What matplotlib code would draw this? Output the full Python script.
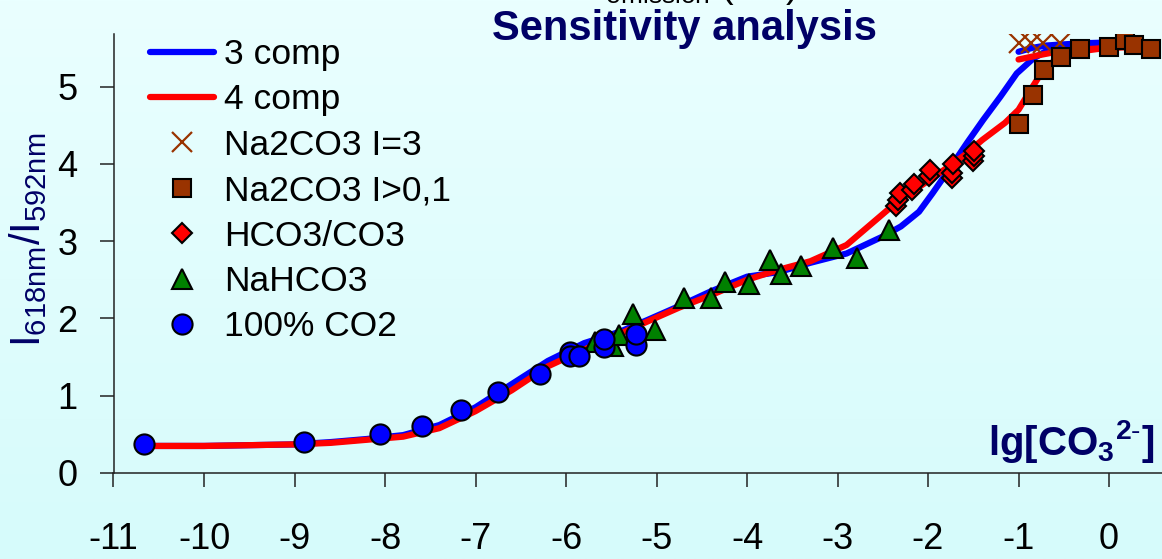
import numpy as np
import matplotlib
matplotlib.use('Agg')
import matplotlib.pyplot as plt

plt.rcParams['font.family'] = ['Liberation Sans', 'DejaVu Sans']
plt.rcParams['mathtext.fontset'] = 'custom'
plt.rcParams['mathtext.rm'] = 'Liberation Sans'
plt.rcParams['mathtext.bf'] = 'Liberation Sans:bold'
plt.rcParams['mathtext.it'] = 'Liberation Sans:italic'
plt.rcParams['axes.unicode_minus'] = False

NAVY = '#000066'

# model curves (lg[CO3 2-] vs ratio)
comp3_x = [-10.67, -10.0, -9.5, -9.0, -8.6, -8.2, -7.8, -7.4, -7.0, -6.6, -6.2, -5.8,
           -5.4, -5.1, -4.75, -4.4, -4.0, -3.65, -3.3, -2.9, -2.5, -2.3, -2.1, -1.95,
           -1.76, -1.57, -1.39, -1.2, -1.02, -0.84, -0.65, -0.47, -0.1, 0.2, 0.45]
comp3_y = [0.35, 0.35, 0.36, 0.37, 0.40, 0.44, 0.49, 0.62, 0.85, 1.15, 1.45, 1.68,
           1.83, 1.98, 2.16, 2.35, 2.54, 2.60, 2.72, 2.84, 3.06, 3.19, 3.38, 3.62,
           3.94, 4.27, 4.57, 4.87, 5.17, 5.36, 5.49, 5.53, 5.56, 5.57, 5.57]

comp4_x = [-10.67, -10.0, -9.5, -9.0, -8.6, -8.2, -7.8, -7.4, -7.0, -6.6, -6.2, -5.85,
           -5.5, -5.1, -4.75, -4.4, -4.0, -3.65, -3.3, -2.9, -2.65, -2.4, -2.1, -1.85,
           -1.6, -1.4, -1.15, -1.0, -0.87, -0.73, -0.58, -0.36, -0.1, 0.2, 0.45]
comp4_y = [0.35, 0.35, 0.36, 0.37, 0.39, 0.43, 0.47, 0.58, 0.80, 1.07, 1.38, 1.57,
           1.75, 1.96, 2.14, 2.30, 2.50, 2.63, 2.74, 2.95, 3.20, 3.45, 3.70, 3.90,
           4.11, 4.31, 4.53, 4.70, 4.95, 5.21, 5.36, 5.45, 5.49, 5.52, 5.53]

# high ionic strength branches
comp3_i3_x = [-1.0, -0.85, -0.7, -0.58, -0.3, 0.0, 0.45]
comp3_i3_y = [5.45, 5.50, 5.53, 5.54, 5.56, 5.57, 5.57]
comp4_i3_x = [-1.0, -0.8, -0.58, -0.3, 0.0, 0.45]
comp4_i3_y = [5.35, 5.40, 5.45, 5.48, 5.50, 5.52]

# measurements
na2co3_i3_x = [-1.0, -0.86, -0.73, -0.54]
na2co3_i3_y = [5.57, 5.57, 5.57, 5.57]

na2co3_x = [-1.00, -0.84, -0.72, -0.53, -0.32, 0.00, 0.18, 0.28, 0.46]
na2co3_y = [4.52, 4.89, 5.22, 5.38, 5.48, 5.51, 5.60, 5.54, 5.48]

hco3_x = [-2.35, -2.33, -2.31, -2.18, -2.16, -1.99, -1.98, -1.74, -1.73, -1.72,
          -1.50, -1.49, -1.49]
hco3_y = [3.45, 3.53, 3.62, 3.66, 3.74, 3.84, 3.92, 3.82, 3.88, 4.00,
          4.04, 4.10, 4.16]

nahco3_x = [-5.68, -5.48, -5.41, -5.26, -5.02, -4.70, -4.40, -4.24, -3.98, -3.75,
            -3.62, -3.40, -3.05, -2.78, -2.43]
nahco3_y = [1.70, 1.64, 1.78, 2.06, 1.85, 2.26, 2.26, 2.47, 2.44, 2.76,
            2.57, 2.68, 2.91, 2.78, 3.14]

co2_x = [-10.66, -8.89, -8.05, -7.59, -7.16, -6.75, -6.29, -5.96, -5.96, -5.86,
         -5.58, -5.58, -5.23, -5.23]
co2_y = [0.37, 0.40, 0.51, 0.61, 0.82, 1.05, 1.28, 1.56, 1.52, 1.51,
         1.63, 1.73, 1.66, 1.80]

xticks = list(range(-11, 1))
yticks = list(range(0, 6))

fig = plt.figure(figsize=(11.62, 5.59), dpi=100)

# pale cyan backdrop, slightly lighter at the top
bg = fig.add_axes([0, 0, 1, 1], zorder=-10)
top = np.array([234, 255, 255]) / 255
bottom = np.array([214, 251, 251]) / 255
t = np.linspace(0, 1, 256)[:, None, None]
grad = top * (1 - t) + bottom * t
bg.imshow(np.repeat(grad, 2, axis=1), aspect='auto', extent=(0, 1, 0, 1))
bg.axis('off')

ax = fig.add_axes([113.5 / 1162, 1 - 473 / 559, 1 - 113.5 / 1162, 439 / 559])
ax.set_facecolor('none')

ax.plot(comp3_x, comp3_y, color='#0000FF', lw=4.5, solid_capstyle='round', label='3 comp', zorder=2)
ax.plot(comp4_x, comp4_y, color='#FF0000', lw=4.5, solid_capstyle='round', label='4 comp', zorder=2.1)
ax.plot(comp3_i3_x, comp3_i3_y, color='#0000FF', lw=4.5, solid_capstyle='round', zorder=2)
ax.plot(comp4_i3_x, comp4_i3_y, color='#FF0000', lw=4.5, solid_capstyle='round', zorder=2.1)

ax.plot(na2co3_i3_x, na2co3_i3_y, ls='none', marker='x', ms=15, mew=1.6,
        color='#993300', label='Na2CO3 I=3', zorder=3)
ax.plot(na2co3_x, na2co3_y, ls='none', marker='s', ms=13.5, mew=1.5,
        mfc='#993300', mec='black', label='Na2CO3 I>0,1', zorder=3)
ax.plot(hco3_x, hco3_y, ls='none', marker='D', ms=10.5, mew=1.5,
        mfc='#FF0000', mec='black', label='HCO3/CO3', zorder=3)
ax.plot(nahco3_x, nahco3_y, ls='none', marker='^', ms=14.5, mew=1.5,
        mfc='#008000', mec='black', label='NaHCO3', zorder=3)
ax.plot(co2_x, co2_y, ls='none', marker='o', ms=14.5, mew=1.5,
        mfc='#0000FF', mec='black', label='100% CO2', zorder=3.1)

ax.set_xlim(-11, 0.585)
ax.set_ylim(0, 5.68)
ax.set_xticks(xticks)
ax.set_yticks(yticks)
ax.tick_params(axis='both', direction='out', length=10, width=1.1, colors='#222222',
               labelcolor='black', labelsize=26)
ax.tick_params(axis='x', pad=25)
ax.tick_params(axis='y', pad=16)
for side in ('top', 'right'):
    ax.spines[side].set_visible(False)
for side in ('left', 'bottom'):
    ax.spines[side].set_linewidth(1.1)
    ax.spines[side].set_color('#222222')

ax.text(0.993, 0.041, r'$\mathbf{lg[CO_3{}^{2\text{-}}]}$', transform=ax.transAxes,
        ha='right', va='baseline', fontsize=29, color=NAVY)

fig.text(28 / 1162, 1 - 240 / 559, r'$\mathregular{I_{618nm}/I_{592nm}}$',
         rotation=90, ha='center', va='center', fontsize=30, color=NAVY)

fig.text(685 / 1162, 1 - 40 / 559, 'Sensitivity analysis', ha='center', va='baseline',
         fontsize=30, fontweight='bold', color=NAVY)
fig.text(595 / 1162, 1 + 3 / 559, r'$\mathregular{I_{emission}\ (nm)}$', ha='left',
         va='baseline', fontsize=27, color='black')

ax.legend(loc='upper left', bbox_to_anchor=(150 / 1162, 1 - 38 / 559),
          bbox_transform=fig.transFigure, frameon=False, fontsize=25.5,
          handlelength=1.8, handletextpad=0.3, labelspacing=0.35,
          borderpad=0, borderaxespad=0, numpoints=1)

fig.savefig('out.png', dpi=100)
